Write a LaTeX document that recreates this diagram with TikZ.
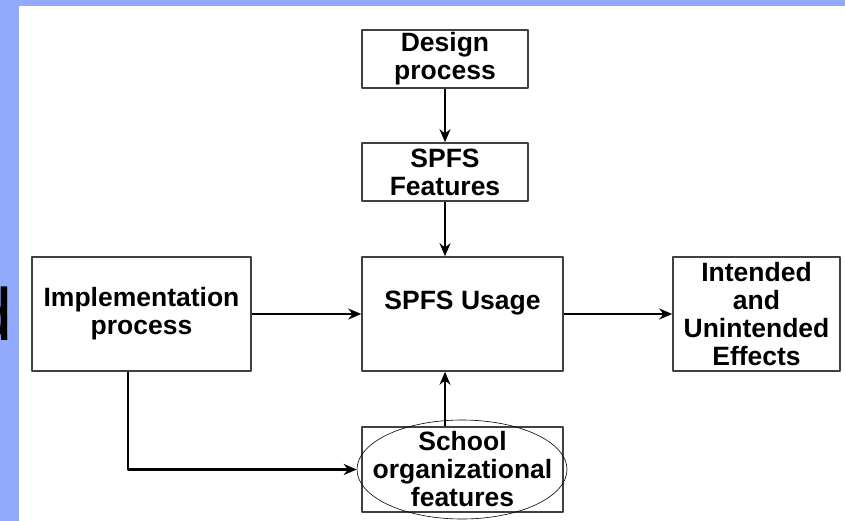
\documentclass[tikz,border=0pt]{standalone}
\usepackage{fontspec}
\setmainfont{Liberation Sans}
\usetikzlibrary{arrows.meta,shapes.geometric}
\definecolor{slideblue}{RGB}{146,170,252}
\tikzset{
  box/.style={draw=black!75, fill=white, line width=1.6pt, align=center, inner sep=0pt,
    font=\bfseries\fontsize{26.5}{28}\selectfont},
  flow/.style={->, line width=2.4pt},
}
\begin{document}
\begin{tikzpicture} [x=1pt, y=-1pt, line join=round, >={Stealth[length=13pt,width=11pt]}]
	\useasboundingbox (0,0) rectangle (845,521);
	% slide edges
	\fill[slideblue] (0,0) rectangle (845,6);
	\fill[slideblue] (0,0) rectangle (19,521);
	\node[anchor=base east, inner sep=0pt, font=\fontsize{74}{74}\selectfont] (cut) at (13,340) {d};
	% boxes
	\node[box, minimum width=166, minimum height=58] (design) at (445,59) {Design\\process};
	\node[box, minimum width=166, minimum height=58] (features) at (445,172) {SPFS\\Features};
	\node[box, minimum width=201, minimum height=114] (usage) at (462.5,314) {SPFS Usage\\~};
	\node[box, minimum width=219, minimum height=114] (impl) at (141.5,314) {Implementation\\process};
	\node[box, minimum width=167, minimum height=114] (effects) at (756.5,314) {Intended\\and\\Unintended\\Effects};
	\node[box, minimum width=201, minimum height=85] (school) at (462.5,469.5) {School\\organizational\\features};
	\node[ellipse, draw, line width=0.6pt, minimum width=210, minimum height=99] (oval) at (462,469.5) {};
	% arrows
	\draw[flow] (design) -- (features);
	\draw[flow] (features.south) -- (features.south |- usage.north);
	\draw[flow] (school.north -| features.south) -- (usage.south -| features.south);
	\draw[flow] (impl.east) -- (usage.west);
	\draw[flow] (usage.east) -- (effects.west);
	\draw[flow] ([xshift=-13.5pt]impl.south) |- (oval.west);
\end{tikzpicture}
\end{document}
